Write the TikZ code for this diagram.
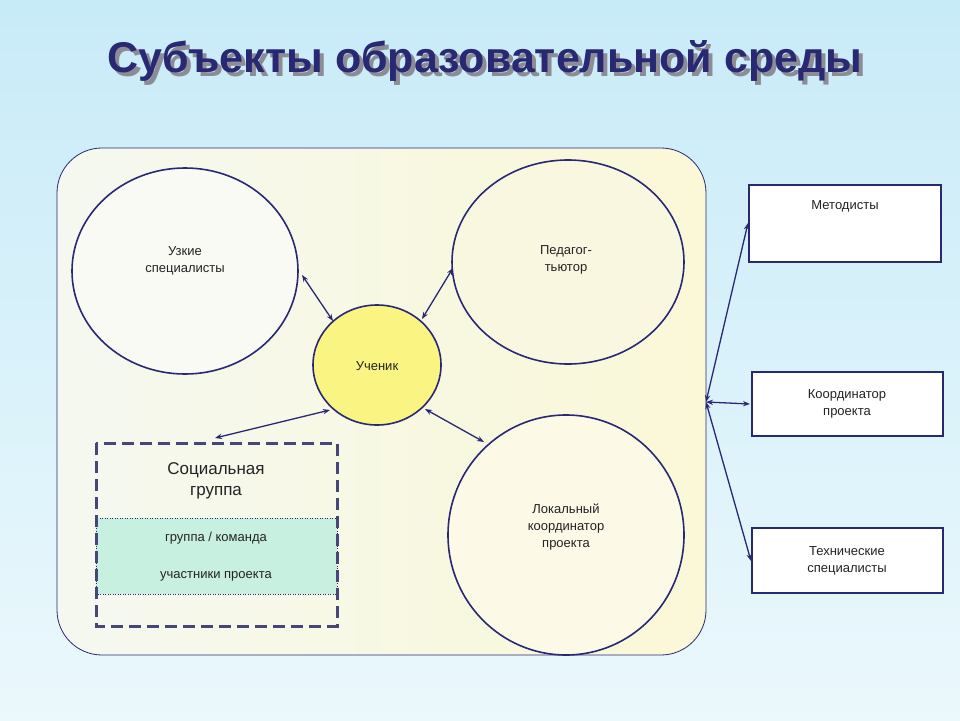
\documentclass[tikz,border=0pt]{standalone}
\usepackage{fontspec}
\setmainfont{Liberation Sans}
\usetikzlibrary{arrows.meta}
\definecolor{navy}{RGB}{40,40,115}
\definecolor{txt}{RGB}{35,35,35}
\definecolor{grpfill}{RGB}{200,240,225}
\tikzset{x=1pt,y=-1pt,
 circ/.style={draw=navy,line width=1.6pt},
 lbl/.style={text=txt,font=\fontsize{13}{17}\selectfont,align=center},
 rbox/.style={draw=navy,line width=1.6pt,fill=white},
 dbl/.style={navy,line width=1.3pt,{Stealth[length=7pt]}-{Stealth[length=7pt]}}}
\begin{document}
\begin{tikzpicture}
\shade[top color={rgb,255:red,200;green,235;blue,248},bottom color={rgb,255:red,235;green,248;blue,252}] (0,0) rectangle (960,720);
\useasboundingbox (0,0) rectangle (960,720);
\node[text={rgb,255:red,140;green,140;blue,150},font=\bfseries\fontsize{43}{50}\selectfont] at (489,65) {Субъекты образовательной среды};
\node[text=navy,font=\bfseries\fontsize{43}{50}\selectfont] (title) at (485,61) {Субъекты образовательной среды};
\shade[left color={rgb,255:red,245;green,248;blue,240},right color={rgb,255:red,250;green,248;blue,215},rounded corners=45pt] (57,148) rectangle (706,655);
\draw[draw=navy,line width=0.8pt,rounded corners=45pt] (57,148) rectangle (706,655);
\draw[circ,fill={rgb,255:red,250;green,250;blue,245}] (185,271) ellipse (113 and 103);
\draw[circ,fill={rgb,255:red,250;green,247;blue,225}] (568,262) ellipse (116 and 102);
\draw[circ,fill={rgb,255:red,252;green,249;blue,230}] (566,535) ellipse (118 and 120);
\draw[draw=navy,line width=1.6pt,fill={rgb,255:red,250;green,245;blue,130}] (377,365) ellipse (64 and 60);
\node[lbl] (uz) at (185,261) {Узкие\\специалисты};
\node[lbl] (ped) at (566,260) {Педагог-\\тьютор};
\node[lbl] (lok) at (566,527) {Локальный\\координатор\\проекта};
\node[lbl] (uch) at (377,366) {Ученик};
\fill[grpfill] (96,518) rectangle (337,594);
\draw[navy,dotted,line width=0.5pt] (96,518) rectangle (337,594);
\draw[draw={rgb,255:red,70;green,70;blue,120},line width=3pt,dash pattern=on 12pt off 6pt] (96,443) rectangle (337,626);
\node[lbl,font=\fontsize{17}{21}\selectfont] (soc) at (216,481) {Социальная\\группа};
\node[lbl] (gr) at (216,538) {группа / команда};
\node[lbl] (uc) at (216,576) {участники проекта};
\draw[rbox] (749,185) rectangle (941,262);
\node[lbl] (met) at (845,206) {Методисты};
\draw[rbox] (752,372) rectangle (943,436);
\node[lbl] (koo) at (847,404) {Координатор\\проекта};
\draw[rbox] (752,528) rectangle (943,593);
\node[lbl] (teh) at (847,561) {Технические\\специалисты};
\coordinate (hub) at (706,402);
\coordinate (m1) at (748,223);
\coordinate (m2) at (750,404);
\coordinate (m3) at (751,561);
\draw[dbl] (hub) -- (m1);
\draw[dbl] (hub) -- (m2);
\draw[dbl] (hub) -- (m3);
\coordinate (a1) at (302,275); \coordinate (a2) at (333,321);
\coordinate (b1) at (453,268); \coordinate (b2) at (422,319);
\coordinate (c1) at (425,409); \coordinate (c2) at (484,442);
\coordinate (d1) at (330,410); \coordinate (d2) at (215,438);
\draw[dbl] (a1) -- (a2);
\draw[dbl] (b1) -- (b2);
\draw[dbl] (c1) -- (c2);
\draw[dbl] (d1) -- (d2);
\end{tikzpicture}
\end{document}
